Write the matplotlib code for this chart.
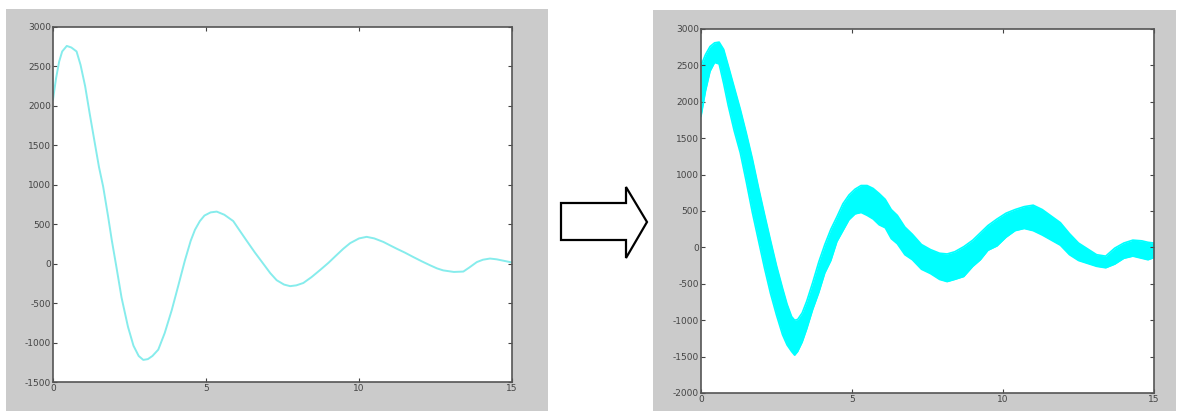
import matplotlib
matplotlib.use('Agg')
import matplotlib.pyplot as plt
from matplotlib.patches import Rectangle, Polygon

# ---------------- data ----------------
# left panel: single averaged trace
left_x = [0, 0.1, 0.2, 0.3, 0.45, 0.6, 0.77, 0.9, 1.05, 1.2, 1.37, 1.5, 1.64, 1.8,
          1.92, 2.08, 2.24, 2.45, 2.63, 2.8, 2.95, 3.1, 3.25, 3.44, 3.65, 3.88, 4.1,
          4.31, 4.5, 4.64, 4.8, 4.95, 5.15, 5.35, 5.6, 5.89, 6.1, 6.33, 6.6, 6.87,
          7.1, 7.31, 7.55, 7.75, 7.95, 8.18, 8.45, 8.73, 9.0, 9.27, 9.49, 9.71, 10.0,
          10.25, 10.5, 10.8, 11.0, 11.23, 11.5, 11.77, 12.05, 12.32, 12.55, 12.75,
          13.1, 13.41, 13.6, 13.85, 14.05, 14.28, 14.5, 14.75, 15.0]
left_y = [2080, 2350, 2560, 2690, 2760, 2740, 2690, 2520, 2250, 1900, 1520, 1230, 975, 600,
          300, -60, -430, -800, -1040, -1170, -1220, -1210, -1170, -1090, -880, -590, -270,
          40, 290, 430, 540, 610, 650, 660, 620, 540, 420, 290, 140, 0,
          -120, -210, -265, -285, -275, -245, -170, -80, 10, 110, 190, 260, 320,
          340, 320, 275, 235, 190, 140, 85, 30, -20, -60, -85,
          -105, -100, -50, 20, 50, 65, 55, 35, 15]

# right panel: envelope of the bundle of traces
right_x = [0, 0.15, 0.3, 0.45, 0.6, 0.75, 0.9, 1.1, 1.3, 1.5, 1.7, 1.9, 2.1, 2.3, 2.5,
           2.7, 2.85, 3.0, 3.1, 3.2, 3.35, 3.5, 3.7, 3.9, 4.1, 4.3, 4.5, 4.7, 4.9,
           5.1, 5.3, 5.5, 5.7, 5.9, 6.1, 6.3, 6.5, 6.75, 7.0, 7.3, 7.6, 7.9, 8.15,
           8.4, 8.7, 9.0, 9.25, 9.5, 9.8, 10.1, 10.4, 10.7, 11.0, 11.3, 11.6, 11.9,
           12.2, 12.5, 12.8, 13.1, 13.4, 13.7, 14.0, 14.3, 14.6, 14.8, 15.0]
right_upper = [2500, 2650, 2760, 2810, 2820, 2720, 2500, 2200, 1900, 1570, 1220, 830, 460,
               100, -250, -560, -780, -950, -1000, -990, -900, -740, -480, -200, 40, 250,
               420, 600, 720, 800, 850, 850, 810, 740, 660, 520, 440, 280, 180, 40, -30,
               -80, -90, -60, 10, 100, 200, 300, 390, 470, 520, 560, 580, 520, 430, 340,
               190, 60, -20, -100, -120, -10, 60, 100, 90, 70, 60]
right_lower = [1800, 2150, 2420, 2540, 2520, 2250, 1950, 1600, 1300, 900, 480, 100, -280,
               -630, -930, -1200, -1340, -1430, -1480, -1430, -1300, -1120, -850, -620,
               -350, -180, 80, 230, 380, 460, 480, 440, 390, 310, 270, 120, 50, -100,
               -170, -300, -360, -440, -470, -440, -400, -260, -170, -40, 20, 140, 230,
               260, 230, 170, 100, 30, -100, -180, -220, -260, -280, -230, -150, -120,
               -150, -170, -140]

xticks = [0, 5, 10, 15]
left_yticks = [-1500, -1000, -500, 0, 500, 1000, 1500, 2000, 2500, 3000]
right_yticks = [-2000, -1500, -1000, -500, 0, 500, 1000, 1500, 2000, 2500, 3000]

# ---------------- layout ----------------
W, H = 1192, 412
fig = plt.figure(figsize=(W / 100, H / 100), dpi=100)
fig.patch.set_facecolor('white')


def box(x0, y0, x1, y1):
    """pixel box (top-left origin) -> figure fraction rect"""
    return [x0 / W, 1 - y1 / H, (x1 - x0) / W, (y1 - y0) / H]


GREY = '#cbcbcb'
for (x0, y0, x1, y1) in [(6, 9, 548, 411), (653, 10, 1176, 411)]:
    r = box(x0, y0, x1, y1)
    fig.patches.append(Rectangle((r[0], r[1]), r[2], r[3], transform=fig.transFigure,
                                 facecolor=GREY, edgecolor='none', zorder=-5))

# arrow between panels
arrow_px = [(561, 203), (626, 203), (626, 187), (647, 222), (626, 258), (626, 240), (561, 240)]
fig.patches.append(Polygon([(x / W, 1 - y / H) for x, y in arrow_px], closed=True,
                           transform=fig.transFigure, facecolor='white',
                           edgecolor='black', linewidth=1.6, zorder=1))


def style(ax, yticks, ylim):
    ax.set_zorder(5)
    ax.set_facecolor('white')
    ax.set_xlim(0, 15)
    ax.set_ylim(*ylim)
    ax.set_xticks(xticks)
    ax.set_yticks(yticks)
    ax.set_xticklabels([str(t) for t in xticks])
    ax.set_yticklabels([str(t) for t in yticks])
    ax.tick_params(direction='in', length=3, width=0.8, color='#444444',
                   labelsize=6.5, labelcolor='#444444', pad=1.5,
                   top=True, right=True)
    for s in ax.spines.values():
        s.set_color('#555555')
        s.set_linewidth(1.2)


ax1 = fig.add_axes(box(53, 27, 512, 382))
ax1.plot(left_x, left_y, color='#86ecec', linewidth=1.4, solid_joinstyle='round')
style(ax1, left_yticks, (-1500, 3000))

ax2 = fig.add_axes(box(701, 29, 1154, 393))
ax2.fill_between(right_x, right_lower, right_upper, color='#00ffff', linewidth=0)
ax2.plot(right_x, right_upper, color='#00ffff', linewidth=1.2)
ax2.plot(right_x, right_lower, color='#00ffff', linewidth=1.2)
style(ax2, right_yticks, (-2000, 3000))

fig.savefig('out.png', dpi=100, facecolor='white')
